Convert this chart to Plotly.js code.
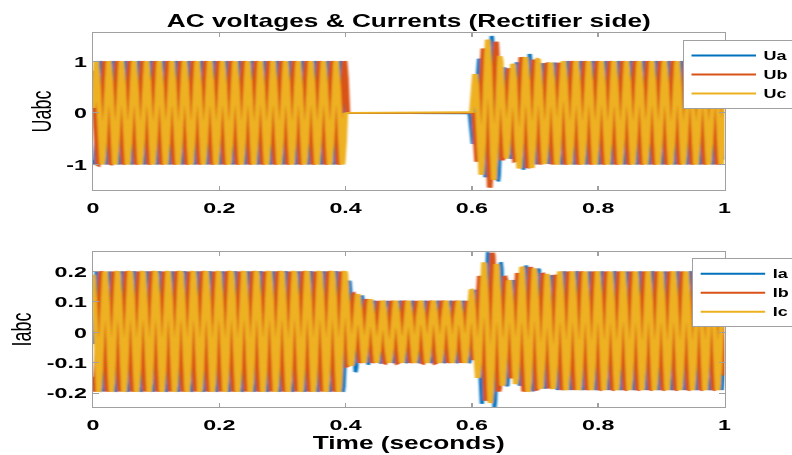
<!DOCTYPE html>
<html>
<head>
<meta charset="utf-8">
<script src="https://cdn.plot.ly/plotly-3.0.1.min.js"></script>
<style>
  html, body { margin: 0; padding: 0; background: #fff; overflow: hidden; }
  #wrap { width: 528px; height: 455px; transform: scaleX(1.5); transform-origin: 0 0; }
</style>
</head>
<body>
<div id="wrap"></div>
<script>
// ---- Data ----
const freqHz = 50;                       // supply frequency
const seriesNamesU = ['Ua', 'Ub', 'Uc'];
const seriesNamesI = ['Ia', 'Ib', 'Ic'];
const phaseU = [-2.0, -4.094, 0.094];    // phase angles (rad) of Ua, Ub, Uc
const phaseI = [-0.2, -2.294, 1.894];    // phase angles (rad) of Ia, Ib, Ic

// Voltage peak envelope (per half-cycle, step values starting at each time)
const uKnotT  = [0,    0.40, 0.600, 0.607, 0.614, 0.622, 0.632, 0.642, 0.650, 0.662, 0.674, 0.686, 0.698, 0.710, 0.724, 0.740];
const uTop    = [1.00, 0.00, 0.75,  1.00,  1.25,  1.42,  1.38,  1.07,  0.86,  0.95,  1.08,  1.12,  1.03,  0.96,  0.97,  1.00];
const uBot    = [1.00, 0.00, 0.60,  0.95,  1.20,  1.45,  1.30,  0.92,  0.87,  0.92,  1.08,  1.07,  1.00,  0.99,  1.00,  1.00];
const uExtraA = [0,    0,    0,     0.05,  0.05,  0.07,  0.03,  0.03,  0.02,  0.02,  0.02,  0.02,  0,     0,     0,     0];

// Current peak envelope
const iKnotT     = [0,     0.400, 0.410, 0.420, 0.432, 0.444, 0.597, 0.607, 0.614, 0.624, 0.636, 0.646, 0.656, 0.666, 0.678, 0.694, 0.708, 0.720, 0.735];
const iTop       = [0.200, 0.170, 0.125, 0.120, 0.108, 0.103, 0.140, 0.185, 0.230, 0.262, 0.225, 0.180, 0.170, 0.195, 0.215, 0.205, 0.190, 0.188, 0.200];
const iBot       = [0.195, 0.110, 0.100, 0.100, 0.100, 0.100, 0.090, 0.150, 0.225, 0.232, 0.195, 0.175, 0.150, 0.170, 0.195, 0.190, 0.185, 0.185, 0.190];
const iExtraATop = [0,     0,     0,     0,     0,     0,     0,     0.005, 0.012, 0,     0.005, 0.003, 0,     0.005, 0.005, 0.004, 0,     0,     0];
const iExtraABot = [0,     0.070, 0.030, 0.010, 0.005, 0,     0,     0.005, 0.010, 0.014, 0.005, 0.003, 0,     0.005, 0.005, 0.004, 0,     0,     0];

const xTicks  = [0, 0.2, 0.4, 0.6, 0.8, 1];
const xTickText = ['0', '0.2', '0.4', '0.6', '0.8', '1'];
const uTicks  = [-1, 0, 1];
const iTicks  = [-0.2, -0.1, 0, 0.1, 0.2];
const iTickText = ['-0.2', '-0.1', '0', '0.1', '0.2'];

// ---- Build waveforms ----
function stepAt(kT, vals, t) {
  let v = vals[0];
  for (let i = 0; i < kT.length; i++) if (kT[i] <= t) v = vals[i];
  return v;
}
function halfCenter(t, phi) {
  const w = 2 * Math.PI * freqHz;
  const h = Math.floor((w * t + phi) / Math.PI);
  return ((h + 0.5) * Math.PI - phi) / w;
}
function wave(t, phi, kT, top, bot, exTop, exBot) {
  const w = 2 * Math.PI * freqHz;
  const tc = halfCenter(t, phi);
  const s = Math.sin(w * t + phi);
  if (s >= 0) return s * (stepAt(kT, top, tc) + (exTop ? stepAt(kT, exTop, tc) : 0));
  return s * (stepAt(kT, bot, tc) + (exBot ? stepAt(kT, exBot, tc) : 0));
}
const N = 12000;
const tArr = [];
for (let i = 0; i <= N; i++) tArr.push(i / N);

const colors = ['#0072BD', '#D95319', '#EDB120'];
const LWs = [2.6, 3.6, 3.6]; // dense oscillation strokes per phase
const LW_FLAT = 1.8;         // de-energised (flat) stretch
const traces = [];
for (let p = 0; p < 3; p++) {
  const exA = p === 0 ? uExtraA : null;
  const y = tArr.map(t => wave(t, phaseU[p], uKnotT, uTop, uBot, exA, exA));
  const flat = tArr.map(t => stepAt(uKnotT, uTop, halfCenter(t, phaseU[p])) === 0);
  const yOsc = y.map((v, i) => (flat[i] && (i === 0 || flat[i - 1]) && (i === N || flat[i + 1])) ? null : v);
  const yFlat = y.map((v, i) => (flat[i] || (i > 0 && flat[i - 1]) || (i < N && flat[i + 1])) ? v : null);
  traces.push({
    x: tArr, y: yOsc, type: 'scatter', mode: 'lines', name: seriesNamesU[p],
    line: { color: colors[p], width: LWs[p] }, xaxis: 'x', yaxis: 'y',
    legend: 'legend', legendgroup: 'u' + p, connectgaps: false
  });
  traces.push({
    x: tArr, y: yFlat, type: 'scatter', mode: 'lines', name: seriesNamesU[p],
    line: { color: colors[p], width: LW_FLAT }, xaxis: 'x', yaxis: 'y',
    legend: 'legend', legendgroup: 'u' + p, showlegend: false, connectgaps: false
  });
}
for (let p = 0; p < 3; p++) {
  traces.push({
    x: tArr, y: tArr.map(t => wave(t, phaseI[p], iKnotT, iTop, iBot,
        p === 0 ? iExtraATop : null, p === 0 ? iExtraABot : null)),
    type: 'scatter', mode: 'lines', name: seriesNamesI[p],
    line: { color: colors[p], width: LWs[p] }, xaxis: 'x2', yaxis: 'y2', legend: 'legend2'
  });
}

const fam = 'Liberation Sans, Arial, sans-serif';
const tickFont = { family: fam, size: 15.5, color: '#000', weight: 'bold' };
const axisCommon = {
  showline: true, mirror: 'ticks', linecolor: '#a0a0a0', linewidth: 1,
  ticks: 'inside', ticklen: 4, tickcolor: '#a0a0a0', tickwidth: 1,
  showgrid: false, zeroline: false, tickfont: tickFont
};
const legendCommon = {
  xanchor: 'left', yanchor: 'top',
  bgcolor: '#fff', bordercolor: '#a0a0a0', borderwidth: 1,
  font: { family: fam, size: 12, color: '#000', weight: 'bold' },
  itemwidth: 43, tracegroupgap: 0
};

const layout = {
  width: 528, height: 455,
  paper_bgcolor: '#fff', plot_bgcolor: '#fff',
  margin: { l: 62, r: 45, t: 33, b: 48, autoexpand: false },
  showlegend: true,
  title: {
    text: 'AC voltages & Currents (Rectifier side)',
    font: { family: fam, size: 17.5, color: '#000', weight: 'bold' },
    x: 0.5, xref: 'paper', y: 0.955, yref: 'container', yanchor: 'middle'
  },
  xaxis: Object.assign({}, axisCommon, {
    domain: [0, 1], range: [0, 1], anchor: 'y', ticklabelstandoff: 3,
    tickvals: xTicks, ticktext: xTickText
  }),
  yaxis: Object.assign({}, axisCommon, {
    domain: [0.58, 1], range: [-1.5, 1.55], anchor: 'x',
    tickvals: uTicks, ticktext: uTicks.map(String),
    title: { text: 'Uabc', font: { family: fam, size: 18, color: '#000' }, standoff: 4 }
  }),
  xaxis2: Object.assign({}, axisCommon, {
    domain: [0, 1], range: [0, 1], anchor: 'y2', ticklabelstandoff: 3,
    tickvals: xTicks, ticktext: xTickText,
    title: { text: 'Time (seconds)', font: { family: fam, size: 17.5, color: '#000', weight: 'bold' }, standoff: 1 }
  }),
  yaxis2: Object.assign({}, axisCommon, {
    domain: [0, 0.415], range: [-0.246, 0.265], anchor: 'x2',
    tickvals: iTicks, ticktext: iTickText,
    title: { text: 'Iabc', font: { family: fam, size: 18, color: '#000' }, standoff: 5 }
  }),
  legend: Object.assign({}, legendCommon, { x: 0.9335, y: 0.981 }),
  legend2: Object.assign({}, legendCommon, { x: 0.948, y: 0.3976 })
};

Plotly.newPlot('wrap', traces, layout, { staticPlot: true, displayModeBar: false }).then(gd => {
  gd.querySelectorAll('.legendlines path').forEach(p => { p.style.strokeWidth = '2px'; });
  // soften the dense strokes slightly, like the blended raster of the original
  const NS = 'http://www.w3.org/2000/svg';
  const svg = gd.querySelector('svg.main-svg');
  let defs = svg.querySelector('defs');
  if (!defs) { defs = document.createElementNS(NS, 'defs'); svg.insertBefore(defs, svg.firstChild); }
  const filt = document.createElementNS(NS, 'filter');
  filt.setAttribute('id', 'softStroke');
  filt.setAttribute('x', '-2%'); filt.setAttribute('y', '-5%');
  filt.setAttribute('width', '104%'); filt.setAttribute('height', '110%');
  const blur = document.createElementNS(NS, 'feGaussianBlur');
  blur.setAttribute('stdDeviation', '0.7 0.4');
  filt.appendChild(blur);
  defs.appendChild(filt);
  gd.querySelectorAll('.scatterlayer').forEach(g => g.setAttribute('filter', 'url(#softStroke)'));
});
</script>
</body>
</html>
